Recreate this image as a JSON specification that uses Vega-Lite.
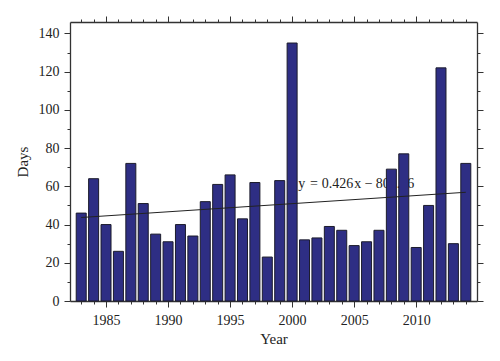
{
  "$schema": "https://vega.github.io/schema/vega-lite/v6.json",
  "width": 407,
  "height": 279,
  "autosize": "none",
  "padding": {"left": 70, "top": 22, "right": 23, "bottom": 60},
  "background": "white",
  "config": {
    "view": {"stroke": null},
    "axis": {
      "labelFont": "Liberation Serif",
      "labelFontSize": 14,
      "labelColor": "#222",
      "titleFont": "Liberation Serif",
      "titleFontSize": 15,
      "titleFontWeight": "normal",
      "titleColor": "#222",
      "domainColor": "#333",
      "domainWidth": 1.3,
      "tickColor": "#333",
      "tickWidth": 1,
      "grid": false
    }
  },
  "datasets": {
    "bars": [
      {"year": 1983, "days": 46}, {"year": 1984, "days": 64}, {"year": 1985, "days": 40},
      {"year": 1986, "days": 26}, {"year": 1987, "days": 72}, {"year": 1988, "days": 51},
      {"year": 1989, "days": 35}, {"year": 1990, "days": 31}, {"year": 1991, "days": 40},
      {"year": 1992, "days": 34}, {"year": 1993, "days": 52}, {"year": 1994, "days": 61},
      {"year": 1995, "days": 66}, {"year": 1996, "days": 43}, {"year": 1997, "days": 62},
      {"year": 1998, "days": 23}, {"year": 1999, "days": 63}, {"year": 2000, "days": 135},
      {"year": 2001, "days": 32}, {"year": 2002, "days": 33}, {"year": 2003, "days": 39},
      {"year": 2004, "days": 37}, {"year": 2005, "days": 29}, {"year": 2006, "days": 31},
      {"year": 2007, "days": 37}, {"year": 2008, "days": 69}, {"year": 2009, "days": 77},
      {"year": 2010, "days": 28}, {"year": 2011, "days": 50}, {"year": 2012, "days": 122},
      {"year": 2013, "days": 30}, {"year": 2014, "days": 72}
    ],
    "trend": [
      {"year": 1983, "days": 43.7},
      {"year": 2014, "days": 56.9}
    ],
    "labels": [
      {"year": 2000.5, "days": 58.9, "text": "y", "style": "italic"},
      {"year": 2001.45, "days": 58.9, "text": "=", "style": "normal"},
      {"year": 2002.38, "days": 58.9, "text": "0.426", "style": "normal"},
      {"year": 2005.0, "days": 58.9, "text": "x", "style": "italic"},
      {"year": 2005.85, "days": 58.9, "text": "\u2212", "style": "normal"},
      {"year": 2006.75, "days": 58.9, "text": "801.06", "style": "normal"}
    ]
  },
  "layer": [
    {
      "data": {"name": "labels"},
      "mark": {"type": "text", "align": "left", "baseline": "alphabetic", "font": "Liberation Serif", "fontSize": 14, "color": "#222"},
      "encoding": {
        "x": {"field": "year", "type": "quantitative", "scale": {"domain": [1982.5, 2014.5], "nice": false, "zero": false}, "axis": null},
        "y": {"field": "days", "type": "quantitative", "scale": {"domain": [0, 146], "nice": false}, "axis": null},
        "text": {"field": "text"},
        "fontStyle": {"field": "style", "type": "nominal", "scale": null, "legend": null}
      }
    },
    {
      "data": {"name": "bars"},
      "mark": {"type": "bar", "size": 10, "fill": "#2e2e84", "stroke": "#1c1c2c", "strokeWidth": 1},
      "encoding": {
        "x": {
          "field": "year", "type": "quantitative",
          "scale": {"domain": [1982.5, 2014.5], "nice": false, "zero": false},
          "axis": {
            "orient": "bottom", "title": "Year",
            "values": [1983,1984,1985,1986,1987,1988,1989,1990,1991,1992,1993,1994,1995,1996,1997,1998,1999,2000,2001,2002,2003,2004,2005,2006,2007,2008,2009,2010,2011,2012,2013,2014],
            "tickSize": {"condition": {"test": "datum.value % 5 === 0", "value": 6}, "value": 3},
            "labelExpr": "datum.value % 5 === 0 ? datum.label : ''",
            "format": "d",
            "labelPadding": 6,
            "labelFlush": false,
            "labelOverlap": false,
            "titlePadding": 4
          }
        },
        "y": {
          "field": "days", "type": "quantitative",
          "scale": {"domain": [0, 146], "nice": false},
          "axis": {
            "orient": "left", "title": "Days",
            "values": [0,10,20,30,40,50,60,70,80,90,100,110,120,130,140],
            "tickSize": {"condition": {"test": "datum.value % 20 === 0", "value": 6}, "value": 3},
            "labelExpr": "datum.value % 20 === 0 ? datum.label : ''",
            "labelPadding": 5,
            "labelOverlap": false,
            "titlePadding": 8
          }
        }
      }
    },
    {
      "data": {"name": "trend"},
      "mark": {"type": "line", "stroke": "#222", "strokeWidth": 1},
      "encoding": {
        "x": {
          "field": "year", "type": "quantitative",
          "scale": {"domain": [1982.5, 2014.5], "nice": false, "zero": false},
          "axis": {
            "orient": "top", "title": null, "labels": false,
            "values": [1983,1984,1985,1986,1987,1988,1989,1990,1991,1992,1993,1994,1995,1996,1997,1998,1999,2000,2001,2002,2003,2004,2005,2006,2007,2008,2009,2010,2011,2012,2013,2014],
            "tickSize": {"condition": {"test": "datum.value % 5 === 0", "value": 6}, "value": 3}
          }
        },
        "y": {
          "field": "days", "type": "quantitative",
          "scale": {"domain": [0, 146], "nice": false},
          "axis": {
            "orient": "right", "title": null, "labels": false,
            "values": [0,10,20,30,40,50,60,70,80,90,100,110,120,130,140],
            "tickSize": {"condition": {"test": "datum.value % 20 === 0", "value": 6}, "value": 3}
          }
        }
      }
    }
  ],
  "resolve": {"axis": {"x": "independent", "y": "independent"}}
}
